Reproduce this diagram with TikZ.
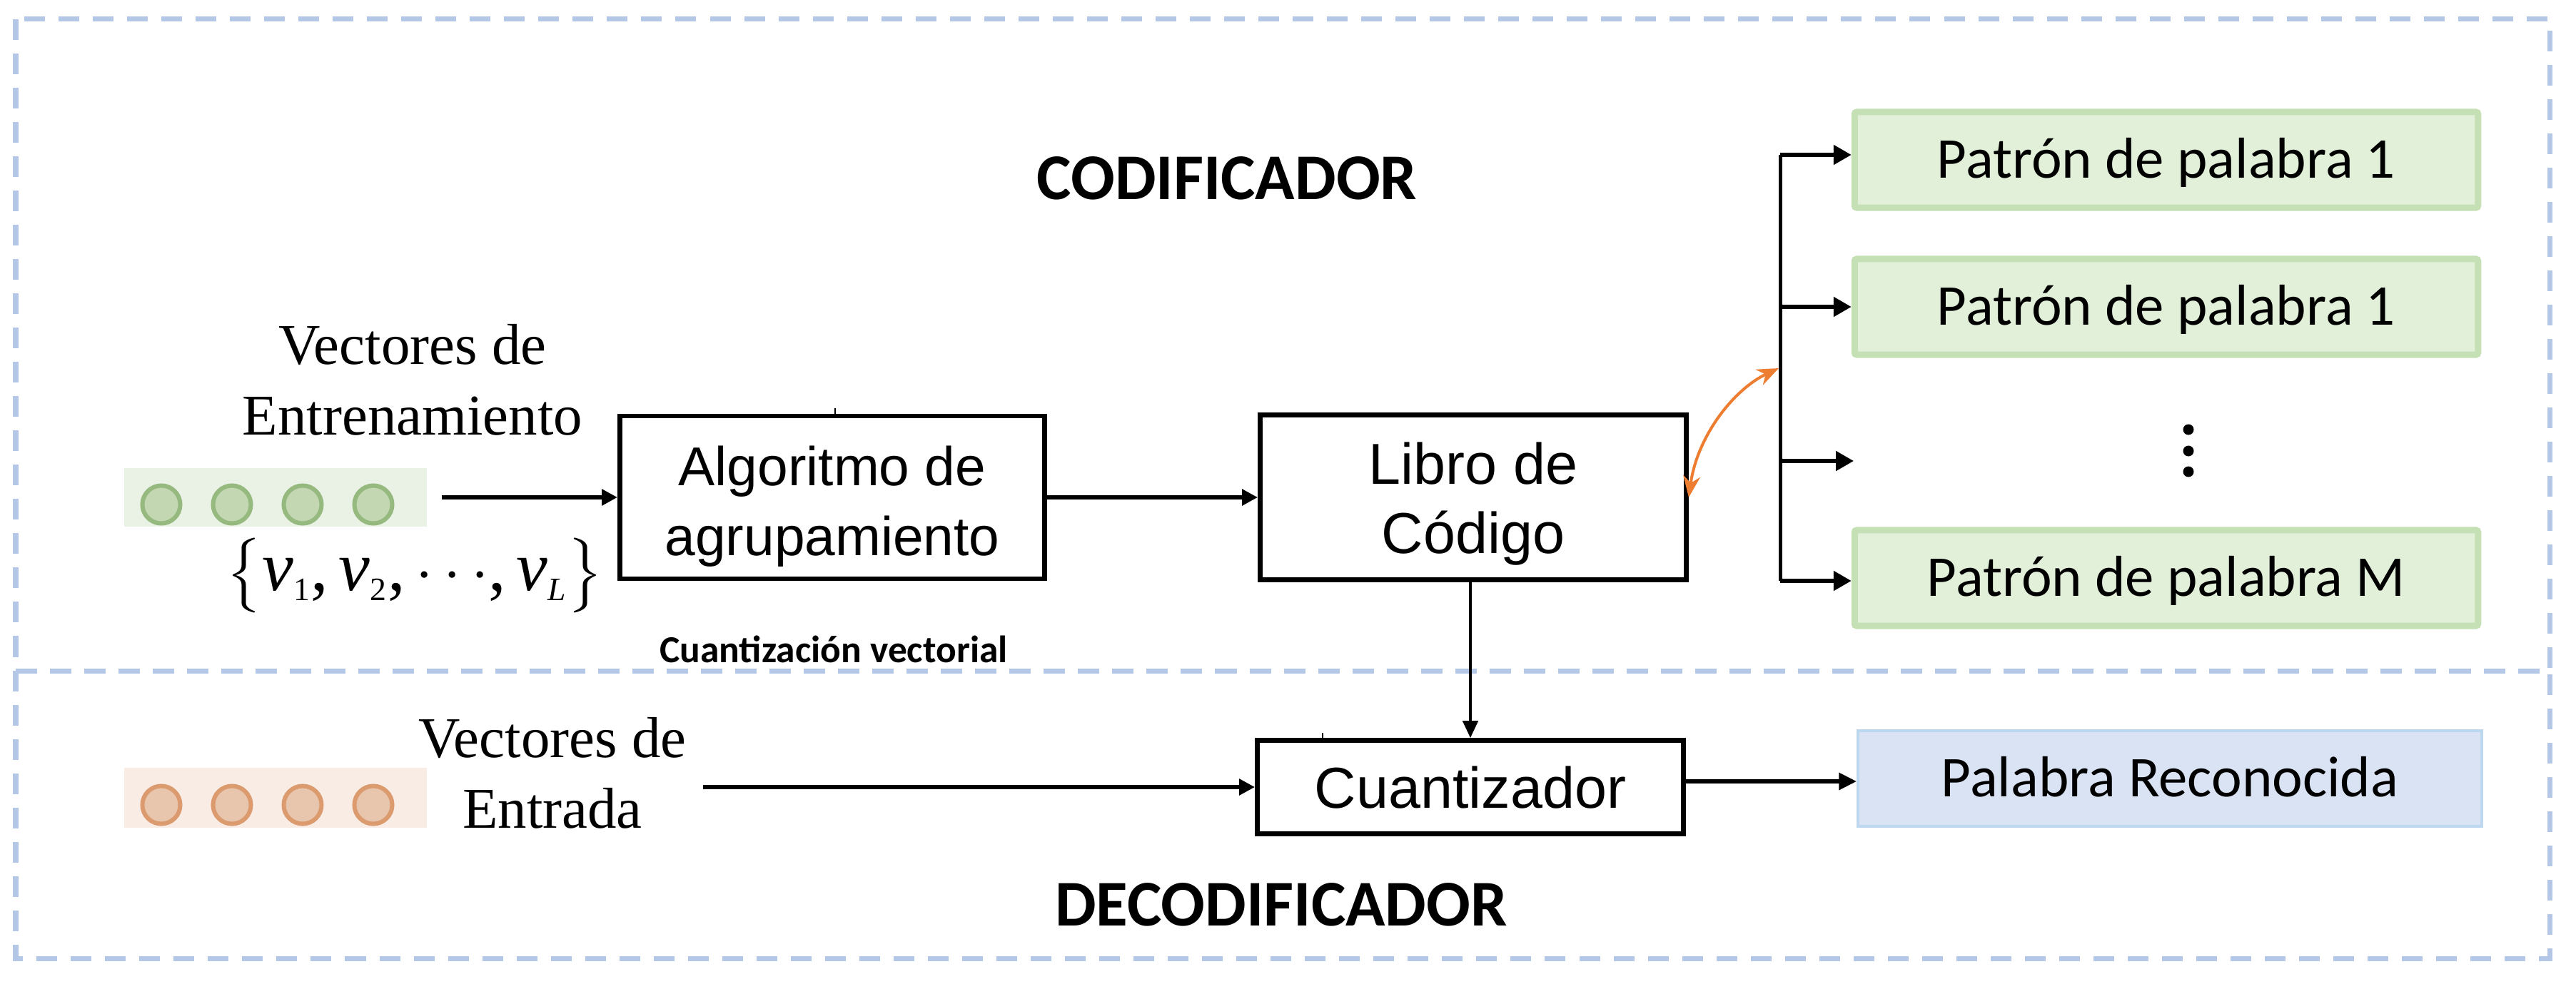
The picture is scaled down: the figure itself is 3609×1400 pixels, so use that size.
\documentclass[tikz,border=0pt]{standalone}
\usepackage{amsmath}
\usepackage{fontspec}
\setmainfont{Liberation Serif}
\newfontfamily\calibri{Carlito}
\newfontfamily\arialf{Liberation Sans}
\usetikzlibrary{arrows.meta}
\definecolor{dashblue}{HTML}{B4C7E7}
\definecolor{greenfill}{HTML}{E2F0D9}
\definecolor{greenline}{HTML}{C5E0B4}
\definecolor{bluefill}{HTML}{DAE3F3}
\definecolor{blueline}{HTML}{BDD7EE}
\definecolor{orangeline}{HTML}{ED7D31}
\definecolor{gpadc}{HTML}{EAF1E5}
\definecolor{gring}{HTML}{95B97E}
\definecolor{gdot}{HTML}{C3D7B3}
\definecolor{opadc}{HTML}{F8ECE4}
\definecolor{oring}{HTML}{DC9B6F}
\definecolor{odot}{HTML}{E8C6AD}
\newcommand{\subsz}[1]{\hbox{\fontsize{13}{13}\selectfont #1}}
\begin{document}
\begin{tikzpicture}[x=0.01cm,y=-0.01cm,
  box/.style={draw=black, line width=0.065cm, fill=white, align=center, inner sep=0pt,
    font=\arialf\fontsize{23}{27.6}\selectfont},
  patbox/.style={draw=greenline, fill=greenfill, line width=0.09cm, rounded corners=0.03cm,
    minimum width=8.73cm, minimum height=1.34cm, inner sep=0pt,
    text height=14.5pt, text depth=0pt, font=\calibri\fontsize{23}{28}\selectfont},
  outbox/.style={draw=blueline, fill=bluefill, line width=0.04cm,
    minimum width=8.73cm, minimum height=1.34cm, inner sep=0pt,
    text height=14.5pt, text depth=0pt, font=\calibri\fontsize{23}{28}\selectfont},
  sect/.style={draw=dashblue, line width=0.07cm, dash pattern=on 0.29cm off 0.19cm},
  title/.style={font=\calibri\bfseries\fontsize{26}{31}\selectfont, anchor=base, inner sep=0pt},
  serif/.style={font=\fontsize{23}{28.2}\selectfont, align=center, inner sep=0pt},
  pad/.style={minimum width=4.24cm, minimum height=0.82cm, inner sep=0pt},
  arr/.style={-{Triangle[length=0.22cm,width=0.22cm]}, line width=0.055cm},
  busarr/.style={-{Triangle[length=0.25cm,width=0.27cm]}, line width=0.055cm},
  varr/.style={-{Triangle[length=0.24cm,width=0.21cm]}, line width=0.045cm},
  outarr/.style={-{Triangle[length=0.25cm,width=0.23cm]}, line width=0.065cm},
  orarr/.style={{Stealth[length=0.3cm,width=0.24cm]}-{Stealth[length=0.3cm,width=0.24cm]}, draw=orangeline, line width=0.04cm}
]
\useasboundingbox (0,0) rectangle (3609,1400);
% section frames
\draw[sect] (22,27) rectangle (3572,940);
\draw[sect] (22,940) rectangle (3572,1343);

% titles
\node[title] (cod) at (1719,279) {CODIFICADOR};
\node[title] (decod) at (1795,1297) {DECODIFICADOR};
\node[font=\calibri\bfseries\fontsize{15.2}{18}\selectfont, anchor=base, inner sep=0pt] (cv) at (1168,928) {Cuantización vectorial};

% input pads
\node[pad, fill=gpadc] (gpad) at (386,697) {};
\foreach \x in {226,325,424,523}
  \draw[draw=gring, fill=gdot, line width=0.06cm] (\x,707) circle[radius=0.265cm];
\node[pad, fill=opadc, minimum height=0.83cm] (opad) at (386,1118) {};
\foreach \x in {226,325,424,523}
  \draw[draw=oring, fill=odot, line width=0.06cm] (\x,1128) circle[radius=0.265cm];

% labels
\node[serif] (vtrain) at (578,532) {Vectores de\\Entrenamiento};
\node[serif] (vin) at (774,1083) {Vectores de\\Entrada};
\node[inner sep=0pt, font=\fontsize{28}{34}\selectfont] (vset) at (581,806)
  {$\bigl\{\textit{v}_{\subsz{1}}\text{,}\,\textit{v}_{\subsz{2}}\text{,}\,\mathord{\cdot}\mkern3mu\mathord{\cdot}\mkern3mu\mathord{\cdot}\text{,}\,\textit{v}_{\subsz{\itshape L}}\bigr\}$};

% blocks
\node[box, minimum width=5.95cm, minimum height=2.28cm, font=\arialf\fontsize{21.8}{27.9}\selectfont] (algo) at (1166,697) {\rule{0pt}{23pt}Algoritmo de\\agrupamiento};
\node[box, minimum width=5.97cm, minimum height=2.31cm] (libro) at (2064,697) {\rule{0pt}{21.6pt}Libro de\\Código};
\node[box, minimum width=5.97cm, minimum height=1.31cm, text height=16.5pt, text depth=0pt] (cuant) at (2060,1103) {Cuantizador};

% word patterns
\node[patbox] (p1) at (3035,224) {Patrón de palabra 1};
\node[patbox] (p2) at (3035,430) {Patrón de palabra 1};
\node[patbox] (pM) at (3035,810) {Patrón de palabra M};
\node[outbox] (out) at (3040,1091) {Palabra Reconocida};
\foreach \y in {602,632,661}
  \fill (3066,\y) circle[radius=0.075cm];

% connectors
\coordinate (bt) at (2494,217);
\coordinate (bb) at (2494,814);
\coordinate (b3) at (2494,646);
\coordinate (b3e) at (2597,646);
\coordinate (bo) at (2492,516);
\coordinate (ein) at (985,1103);

\draw[arr] ([xshift=0.2cm]gpad.east) -- (algo.west);
\draw[arr] (algo.east) -- (libro.west);
\draw[varr] (libro.south -| cuant.north) -- (cuant.north);
\draw[arr] (ein) -- (cuant.west);
\draw[outarr] ([yshift=0.08cm]cuant.east) -- ([yshift=0.08cm]cuant.east -| out.west);

\draw[line width=0.05cm] (bt) -- (bb);
\draw[busarr] (bt) -- (bt -| p1.west);
\draw[busarr] (p2.west -| bt) -- (p2.west);
\draw[busarr] (b3) -- (b3e);
\draw[busarr] (bb) -- (bb -| pM.west);

\draw[orarr] (libro.east) .. controls (2378,610) and (2430,545) .. (bo);

% small ticks on block tops
\draw[line width=0.02cm] (1170,572) -- (1170,582);
\draw[line width=0.02cm] (1853,1027) -- (1853,1038);
\end{tikzpicture}
\end{document}
